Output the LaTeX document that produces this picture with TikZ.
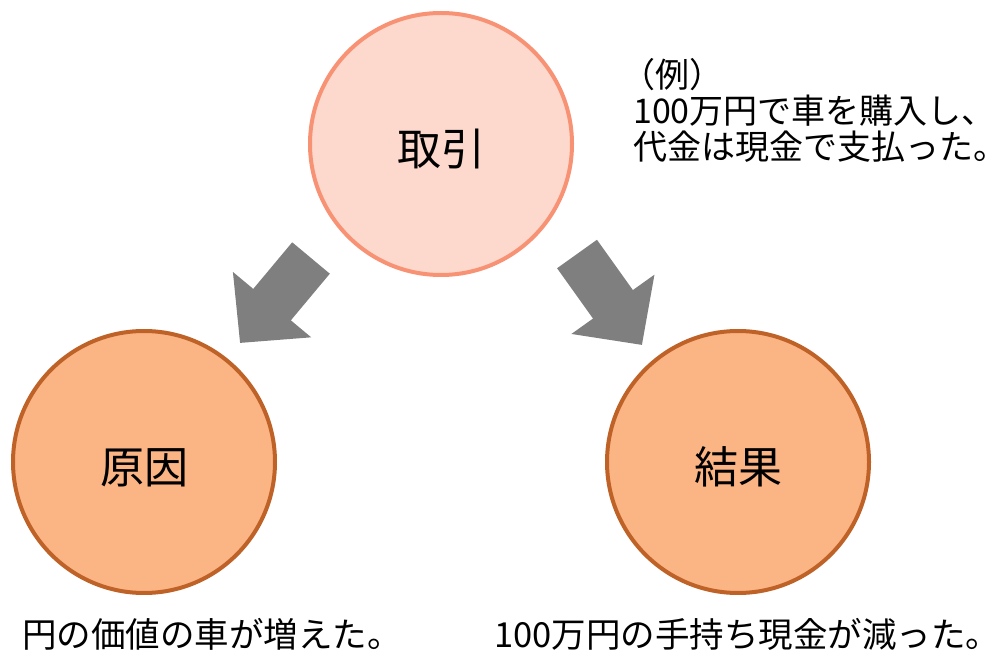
\documentclass[tikz,border=0pt]{standalone}
\usepackage{fontspec}
\setmainfont{Noto Sans CJK JP}
\definecolor{dealfill}{RGB}{253,217,205}
\definecolor{dealline}{RGB}{248,146,116}
\definecolor{sidefill}{RGB}{251,180,132}
\definecolor{sideline}{RGB}{191,98,40}
\definecolor{arrowgray}{RGB}{127,127,127}
\usetikzlibrary{arrows.meta, positioning}

\begin{document}
\begin{tikzpicture}[x=1pt, y=-1pt,
  bigcirc/.style={circle, line width=4pt, minimum size=262pt, inner sep=0pt, text height=43pt, text depth=0pt, font=\fontsize{44}{48}\selectfont},
  blockarrow/.style={draw=arrowgray, line width=49pt, -{Triangle[length=50pt, width=99pt, fill=arrowgray]}},
  note/.style={inner sep=0pt, align=left, font=\fontsize{34}{36}\selectfont},
  result/.style={inner sep=0pt, text depth=0pt, font=\fontsize{34.5}{38}\selectfont}
]
  \useasboundingbox (0,0) rectangle (1007,652);
  \node[bigcirc, draw=dealline, fill=dealfill] (deal) at (441,144) {取引};
  \node[bigcirc, draw=sideline, fill=sidefill] (cause) at (144,462) {原因};
  \node[bigcirc, draw=sideline, fill=sidefill] (effect) at (738,462) {結果};

  \coordinate (causetail) at (311,258);
  \coordinate (causetip) at (240,343);
  \coordinate (effecttail) at (577,254);
  \coordinate (effecttip) at (642,345);
  \draw[blockarrow] (causetail) -- (causetip);
  \draw[blockarrow] (effecttail) -- (effecttip);

  \node[note, anchor=north west] (example) at (633,58) {\hspace*{-0.35em}（例）\\100万円で車を購入し、\\代金は現金で支払った。};
  \node[result, anchor=base east] (causetext) at (402,647) {円の価値の車が増えた。};
  \node[result, anchor=base west] (effecttext) at (494,647) {100万円の手持ち現金が減った。};
\end{tikzpicture}
\end{document}
